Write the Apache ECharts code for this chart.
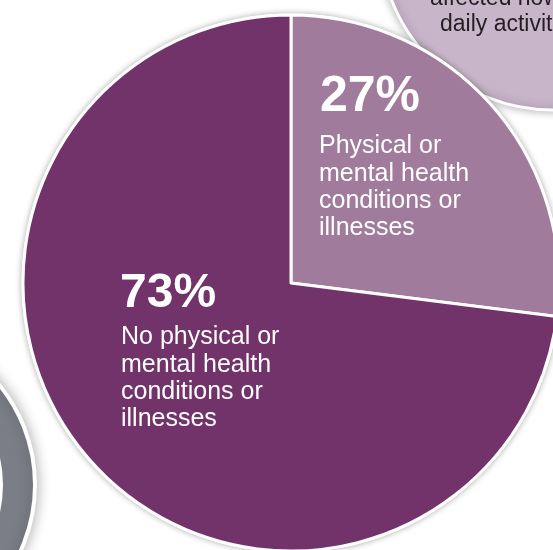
<!DOCTYPE html>
<html><head><meta charset="utf-8">
<script src="https://cdn.jsdelivr.net/npm/echarts@6/dist/echarts.min.js"></script>
<style>html,body{margin:0;padding:0;background:#fff}#c{width:553px;height:550px}</style>
</head><body><div id="c"></div>
<script>
const categories = ['Physical or mental health conditions or illnesses', 'No physical or mental health conditions or illnesses'];
const values = [27, 73];
const labelLines = [
  ['Physical or', 'mental health', 'conditions or', 'illnesses'],
  ['No physical or', 'mental health', 'conditions or', 'illnesses']
];
const colors = ['#A07B9C', '#72336B'];
const bubbleLines = ['affected how', 'daily activities'];

const CX = 291, CY = 283, R = 268;
const FONT = '"Liberation Sans", Arial, Helvetica, sans-serif';
const chart = echarts.init(document.getElementById('c'), null, {renderer: 'canvas'});

// label block layout
const blocks = [
  {px: 320, py: 97, ps: 50, lx: 319, ly: 146.5},
  {px: 120, py: 294, ps: 48, lx: 121, ly: 337.5}
];
const LINE_H = 27.3;
const BODY_SIZE = 25;
const BUBBLE_SIZE = 23;

const graphics = [
  {type: 'circle', z: -10, shape: {cx: 552, cy: -62, r: 172},
   style: {fill: '#C9B5CA', stroke: '#fff', lineWidth: 3, shadowBlur: 10, shadowColor: 'rgba(0,0,0,0.3)'}},
  {type: 'text', z: -9, x: 430, y: -1.5,
   style: {text: bubbleLines[0], font: BUBBLE_SIZE + 'px ' + FONT, fill: '#231F20', verticalAlign: 'middle', align: 'left'}},
  {type: 'text', z: -9, x: 440, y: 24.5,
   style: {text: bubbleLines[1], font: BUBBLE_SIZE + 'px ' + FONT, fill: '#231F20', verticalAlign: 'middle', align: 'left'}},
  {type: 'circle', z: -10, shape: {cx: -123, cy: 485, r: 158},
   style: {fill: '#7B7E86', stroke: '#fff', lineWidth: 4, shadowBlur: 14, shadowColor: 'rgba(0,0,0,0.3)'}},
  {type: 'circle', z: -9, shape: {cx: -123, cy: 485, r: 124},
   style: {fill: 'none', stroke: '#fff', lineWidth: 4}},
  {type: 'circle', z: 1, shape: {cx: CX, cy: CY, r: R + 1.5},
   style: {fill: '#fff', shadowBlur: 6, shadowColor: 'rgba(0,0,0,0.35)'}}
];

blocks.forEach((b, i) => {
  graphics.push({type: 'text', z: 100, x: b.px, y: b.py,
    style: {text: values[i] + '%', font: 'bold ' + b.ps + 'px ' + FONT, fill: '#fff', verticalAlign: 'middle', align: 'left'}});
  labelLines[i].forEach((t, k) => {
    graphics.push({type: 'text', z: 100, x: b.lx, y: b.ly + k * LINE_H,
      style: {text: t, font: BODY_SIZE + 'px ' + FONT, fill: '#fff', verticalAlign: 'middle', align: 'left'}});
  });
});

chart.setOption({
  backgroundColor: '#fff',
  animation: false,
  graphic: graphics,
  series: [{
    type: 'pie',
    z: 2,
    silent: true,
    center: [CX, CY],
    radius: R,
    startAngle: 90,
    clockwise: true,
    label: {show: false},
    labelLine: {show: false},
    itemStyle: {borderColor: '#fff', borderWidth: 3},
    data: categories.map((n, i) => ({name: n, value: values[i], itemStyle: {color: colors[i]}}))
  }]
});
</script></body></html>
